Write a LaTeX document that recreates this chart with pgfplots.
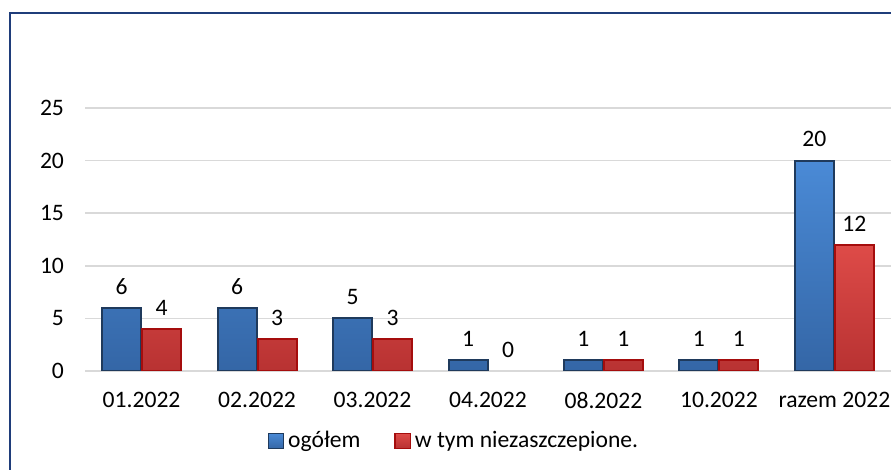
\documentclass[border=0pt]{standalone}
\usepackage{pgfplots}
\pgfplotsset{compat=1.18}
\usepackage{fontspec}
\setmainfont{Carlito}
\definecolor{bluetop}{HTML}{4A8AD6}
\definecolor{bluebot}{HTML}{3466A6}
\definecolor{blueedge}{HTML}{1F3A5C}
\definecolor{redtop}{HTML}{DE4B48}
\definecolor{redbot}{HTML}{B83232}
\definecolor{rededge}{HTML}{A50D0D}
\definecolor{gridc}{HTML}{D9D9D9}
\definecolor{framec}{HTML}{1F3D7A}
\begin{document}
\begin{tikzpicture}
\useasboundingbox (0,0) rectangle (445.5pt,235pt);
\clip (0,0) rectangle (445.5pt,235pt);
\draw[framec, line width=1.1pt] (5pt,228.5pt) rectangle (470pt,-20pt);
\begin{axis}[
  at={(42.5pt,49.5pt)}, anchor=south west,
  scale only axis, width=403pt, height=131.5pt,
  xmin=-0.49, xmax=6.49, ymin=0, ymax=25,
  axis line style={draw=none},
  ytick={0,5,10,15,20,25},
  xtick={0,1,2,3,4,5,6},
  xticklabels={01.2022,02.2022,03.2022,04.2022,08.2022,10.2022,razem 2022},
  major tick length=0pt,
  ymajorgrids, grid style={gridc, line width=0.8pt},
  /pgf/number format/assume math mode=true,
  tick label style={font=\fontsize{11.8}{14}\selectfont, text=black},
  yticklabel style={xshift=-7pt},
  xticklabel style={yshift=-7pt},
  ybar, bar width=19.5pt,
  nodes near coords,
  every node near coord/.append style={font=\fontsize{11.8}{14}\selectfont, yshift=3pt},
  legend columns=2,
  legend style={at={(0.459,-0.266)}, anchor=center, draw=none, fill=none,
    font=\fontsize{11.8}{14}\selectfont,
    /tikz/every even column/.append style={column sep=15pt}},
  legend image code/.code={\draw[#1, line width=0.6pt] (0pt,-3.8pt) rectangle (7.6pt,3.8pt);},
]
\addplot[bar shift=-10pt, top color=bluetop, bottom color=bluebot, draw=blueedge, line width=1pt]
  coordinates {(0,6) (1,6) (2,5) (3,1) (4,1) (5,1) (6,20)};
\addplot[bar shift=10pt, top color=redtop, bottom color=redbot, draw=rededge, line width=1pt]
  coordinates {(0,4) (1,3) (2,3) (4,1) (5,1) (6,12)};
\addplot[bar shift=10pt, draw=none, fill=none, forget plot]
  coordinates {(3,0)};
\legend{ogółem, w tym niezaszczepione.}
\end{axis}
\end{tikzpicture}
\end{document}
